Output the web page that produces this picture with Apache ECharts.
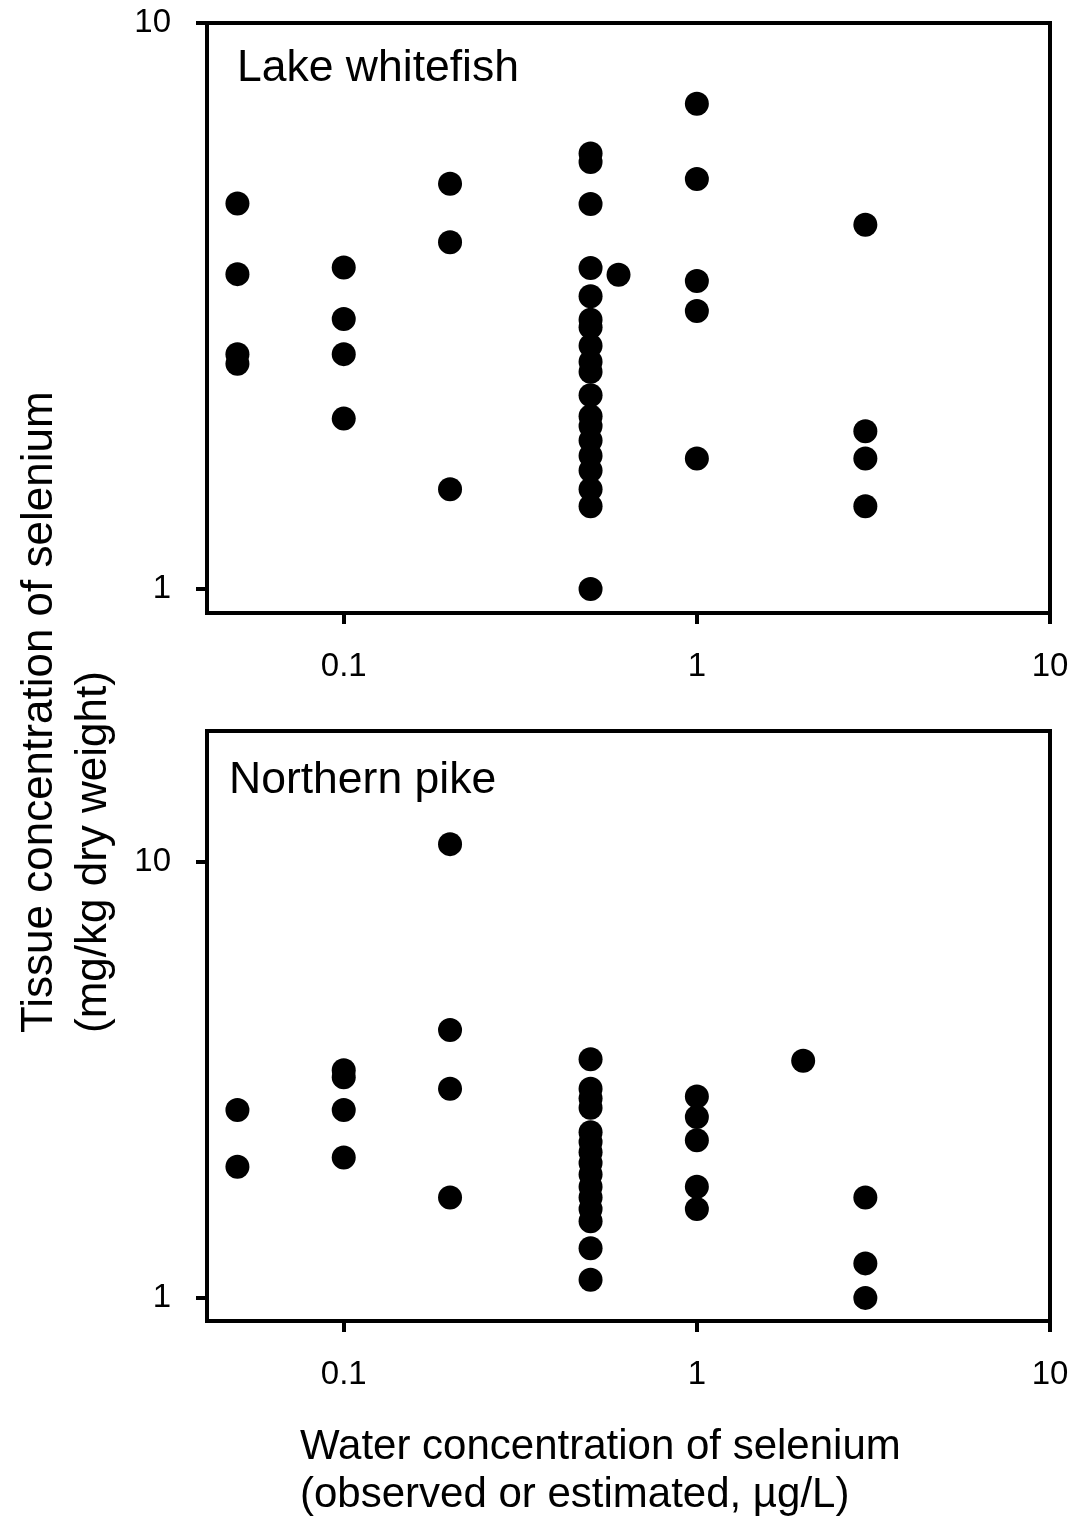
<!DOCTYPE html>
<html>
<head>
<meta charset="utf-8">
<title>Selenium in fish tissue vs water</title>
<script src="https://cdn.jsdelivr.net/npm/echarts@6/dist/echarts.min.js"></script>
<style>
  html, body { margin: 0; padding: 0; background: #fff; }
  #chart { width: 1078px; height: 1520px; }
</style>
</head>
<body>
<div id="chart"></div>
<script>
// Lake whitefish: water Se (µg/L) and tissue Se (mg/kg dw), one entry per fish sample
const whitefishWater = [
  0.05, 0.05, 0.05, 0.05,
  0.1, 0.1, 0.1, 0.1,
  0.2, 0.2, 0.2,
  0.5, 0.5, 0.5, 0.5, 0.5, 0.5, 0.5, 0.5, 0.5, 0.5,
  0.5, 0.5, 0.5, 0.5, 0.5, 0.5, 0.5, 0.5, 0.5,
  0.6,
  1, 1, 1, 1, 1,
  3, 3, 3, 3
];
const whitefishTissue = [
  4.8, 3.6, 2.6, 2.5,
  3.7, 3.0, 2.6, 2.0,
  5.2, 4.1, 1.5,
  5.88, 5.68, 4.79, 3.69, 3.29, 2.99, 2.9, 2.69, 2.52, 2.42,
  2.2, 2.02, 1.94, 1.83, 1.72, 1.62, 1.5, 1.4, 1.0,
  3.59,
  7.2, 5.3, 3.5, 3.1, 1.7,
  4.4, 1.9, 1.7, 1.4
];

// Northern pike
const pikeWater = [
  0.05, 0.05,
  0.1, 0.1, 0.1, 0.1,
  0.2, 0.2, 0.2, 0.2,
  0.5, 0.5, 0.5, 0.5, 0.5, 0.5, 0.5, 0.5,
  0.5, 0.5, 0.5, 0.5, 0.5, 0.5, 0.5,
  1, 1, 1, 1, 1,
  2,
  3, 3, 3
];
const pikeTissue = [
  2.7, 2.0,
  3.33, 3.21, 2.7, 2.1,
  11.0, 4.12, 3.02, 1.7,
  3.53, 3.02, 2.87, 2.73, 2.4, 2.28, 2.16, 2.04,
  1.92, 1.8, 1.7, 1.6, 1.5, 1.3, 1.1,
  2.9, 2.6, 2.3, 1.8, 1.6,
  3.5,
  1.7, 1.2, 1.0
];

// Tick labels
const waterTicks = [0.1, 1, 10];
const tissueTicks = [1, 10];

const panelTitles = ['Lake whitefish', 'Northern pike'];
const xTitle = 'Water concentration of selenium\n(observed or estimated, µg/L)';
const yTitle = 'Tissue concentration of selenium\n(mg/kg dry weight)';

const FONT = "'Liberation Sans', Arial, Helvetica, sans-serif";
const INK = '#000';

function pairs(xs, ys) {
  return xs.map((x, i) => [x, ys[i]]);
}

function fmt(v) {
  return String(+Number(v).toPrecision(6));
}

function xAxisFor(gridIndex) {
  return {
    type: 'log',
    gridIndex: gridIndex,
    logBase: 10,
    min: 0.041,
    max: 10,
    axisLine: { show: true, onZero: false, lineStyle: { color: INK, width: 4 } },
    axisTick: { show: true, inside: false, length: 11, customValues: waterTicks, lineStyle: { color: INK, width: 4 } },
    axisLabel: { show: true, customValues: waterTicks, margin: 37, color: INK, fontSize: 33, fontFamily: FONT, formatter: fmt },
    splitLine: { show: false },
    minorTick: { show: false },
    minorSplitLine: { show: false }
  };
}

function yAxisFor(gridIndex, min, max) {
  return {
    type: 'log',
    gridIndex: gridIndex,
    logBase: 10,
    min: min,
    max: max,
    axisLine: { show: true, onZero: false, lineStyle: { color: INK, width: 4 } },
    axisTick: { show: true, inside: false, length: 11, customValues: tissueTicks, lineStyle: { color: INK, width: 4 } },
    axisLabel: { show: true, customValues: tissueTicks, margin: 36, color: INK, fontSize: 33, fontFamily: FONT, formatter: fmt },
    splitLine: { show: false },
    minorTick: { show: false },
    minorSplitLine: { show: false }
  };
}

const gridBase = {
  left: 207,
  width: 843,
  height: 590,
  show: true,
  borderColor: INK,
  borderWidth: 4,
  backgroundColor: 'transparent',
  containLabel: false,
  outerBoundsMode: 'none'
};

const dotStyle = { color: INK, opacity: 1 };

const chart = echarts.init(document.getElementById('chart'), null, { renderer: 'canvas' });

chart.setOption({
  animation: false,
  backgroundColor: '#fff',
  textStyle: { fontFamily: FONT, color: INK },
  grid: [
    Object.assign({}, gridBase, { top: 23 }),
    Object.assign({}, gridBase, { top: 731 })
  ],
  xAxis: [xAxisFor(0), xAxisFor(1)],
  yAxis: [yAxisFor(0, 0.907, 10), yAxisFor(1, 0.885, 20)],
  title: [
    {
      text: panelTitles[0],
      left: 237, top: 46, padding: 0,
      textStyle: { fontSize: 44.5, fontWeight: 'normal', fontFamily: FONT, color: INK }
    },
    {
      text: panelTitles[1],
      left: 229, top: 758, padding: 0,
      textStyle: { fontSize: 44.5, fontWeight: 'normal', fontFamily: FONT, color: INK }
    }
  ],
  graphic: [
    {
      type: 'text',
      x: 300, y: 1471,
      style: {
        text: xTitle,
        fill: INK,
        font: '42px ' + FONT,
        lineHeight: 48,
        align: 'left',
        verticalAlign: 'middle'
      }
    },
    {
      type: 'text',
      x: 67, y: 1033,
      rotation: Math.PI / 2,
      style: {
        text: yTitle,
        fill: INK,
        font: '44px ' + FONT,
        lineHeight: 54,
        align: 'left',
        verticalAlign: 'middle'
      }
    }
  ],
  series: [
    {
      type: 'scatter',
      xAxisIndex: 0, yAxisIndex: 0,
      symbol: 'circle', symbolSize: 24,
      itemStyle: dotStyle,
      data: pairs(whitefishWater, whitefishTissue)
    },
    {
      type: 'scatter',
      xAxisIndex: 1, yAxisIndex: 1,
      symbol: 'circle', symbolSize: 24,
      itemStyle: dotStyle,
      data: pairs(pikeWater, pikeTissue)
    }
  ]
});
</script>
</body>
</html>
